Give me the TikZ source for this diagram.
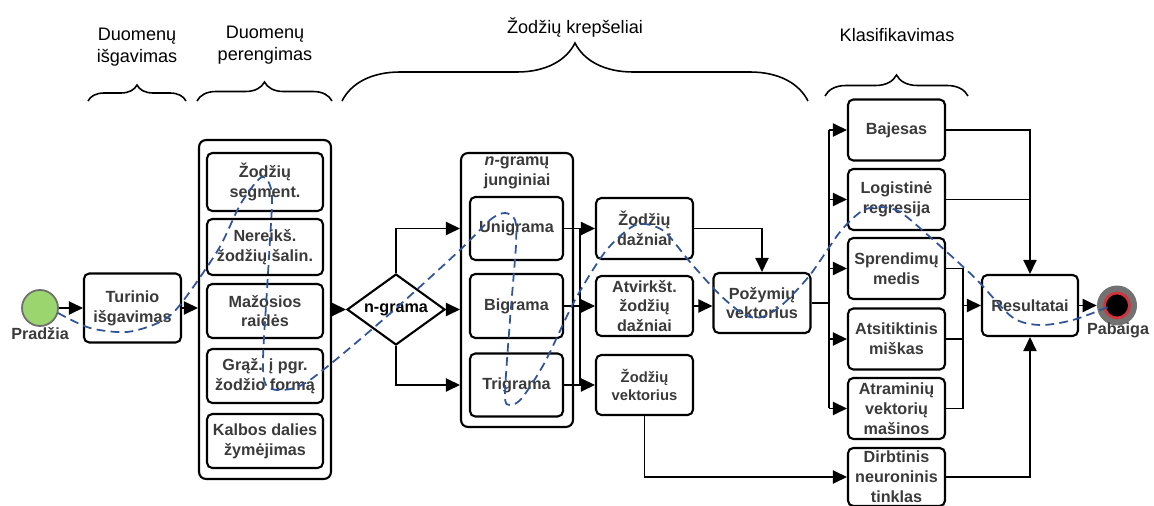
\documentclass[tikz,border=0pt]{standalone}
\usepackage{fontspec}
\setmainfont{Liberation Sans}
\usepackage{tikz}
\usetikzlibrary{shapes,arrows.meta,positioning,calc,decorations.pathreplacing}

\definecolor{txtgray}{HTML}{3A3A3A}
\definecolor{wavblue}{HTML}{2F5597}
\definecolor{startgreen}{HTML}{9BD56E}
\definecolor{startgray}{HTML}{6E6E6E}
\definecolor{endred}{HTML}{D0363C}
\definecolor{endgray}{HTML}{727272}
\newcommand{\bxfont}{\fontsize{9.2}{11.3}\selectfont\bfseries}
\newcommand{\smfont}{\fontsize{8.4}{9.8}\selectfont\bfseries}
\newcommand{\hdfont}{\fontsize{10.3}{12.6}\selectfont}

\begin{document}
\begin{tikzpicture}[x=0.02cm, y=-0.02cm,
  box/.style={draw, rounded corners=3pt, line width=1.2pt, align=center, font=\bxfont,
    text=txtgray, inner sep=1pt, minimum width=1.94cm, minimum height=1.22cm},
  frame/.style={draw, rounded corners=4pt, line width=1.2pt, inner sep=0pt},
  conn/.style={line width=1pt},
  arr/.style={conn, -{Triangle[length=8pt,width=7.5pt]}},
  brc/.style={decorate, decoration={brace, amplitude=#1}, line width=0.9pt},
  hdr/.style={align=center, font=\hdfont},
  wave/.style={wavblue, dash pattern=on 5pt off 3pt, line width=1pt}]
\useasboundingbox (0,0) rectangle (1154,506);

% antraštės
\node[hdr] (hd1) at (137,47) {Duomenų\\išgavimas};
\node[hdr] (hd2) at (265,45) {Duomenų\\perengimas};
\node[hdr] (hd3) at (575,27) {Žodžių krepšeliai};
\node[hdr] (hd4) at (897,35) {Klasifikavimas};
\draw[brc=0.32cm] (88,101) -- (186,101);
\draw[brc=0.38cm] (197,101) -- (332,101);
\draw[brc=1.16cm] (342,101) -- (808,101);
\draw[brc=0.42cm] (825,96) -- (968,96);

% pradžia
\node[circle, draw=startgray, fill=startgreen, line width=1pt, minimum size=0.72cm, inner sep=0pt] (start) at (40,308) {};
\node[font=\bxfont, text=txtgray] (startl) at (40,334) {Pradžia};
\node[box, minimum height=1.38cm] (turinio) at (132.5,308) {Turinio\\išgavimas};

% perengimas
\node[frame, minimum width=2.64cm, minimum height=6.78cm] (prep) at (265,309.5) {};
\node[box, minimum width=2.32cm, minimum height=1.16cm] (seg) at (265,182) {Žodžių\\segment.};
\node[box, minimum width=2.32cm, minimum height=1.12cm] (nere) at (265,247) {Nereikš.\\žodžių šalin.};
\node[box, minimum width=2.32cm, minimum height=1.08cm] (maz) at (265,311) {Mažosios\\raidės};
\node[box, minimum width=2.32cm, minimum height=1.08cm] (graz) at (265,376) {Grąž. į pgr.\\žodžio formą};
\node[box, minimum width=2.32cm, minimum height=1.08cm] (kalb) at (265,441) {Kalbos dalies\\žymėjimas};

% n-gramos
\node[diamond, draw, line width=1.2pt, minimum width=1.96cm, minimum height=1.42cm, inner sep=0pt, aspect=1.4, font=\bxfont] (ngram) at (396,309.5) {n-grama};
\node[frame, minimum width=2.24cm, minimum height=5.48cm] (junc) at (517,290) {};
\node[font=\bxfont, text=txtgray, align=center] (junct) at (517,172.5) {\textit{n}-gramų\\junginiai};
\node[box, minimum width=1.86cm, minimum height=1.26cm] (uni) at (516.5,228.5) {Unigrama};
\node[box, minimum width=1.86cm, minimum height=1.28cm] (big) at (516.5,306) {Bigrama};
\node[box, minimum width=1.86cm, minimum height=1.26cm] (tri) at (516.5,385) {Trigrama};

% krepšeliai
\node[box] (zdaz) at (644.5,228.5) {Žodžių\\dažniai};
\node[box, minimum height=1.2cm] (atv) at (644.5,306) {Atvirkšt.\\žodžių\\dažniai};
\node[box, minimum height=1.2cm, font=\smfont] (zvek) at (644.5,385) {Žodžių\\vektorius};
\node[box, minimum height=1.2cm] (pozy) at (762,303) {Požymių\\vektorius};

% klasifikatoriai
\node[box] (bay) at (896.5,130) {Bajesas};
\node[box] (log) at (896.5,199.5) {Logistinė\\regresija};
\node[box] (spr) at (896.5,268.5) {Sprendimų\\medis};
\node[box] (ats) at (896.5,339) {Atsitiktinis\\miškas};
\node[box] (atr) at (896.5,408.5) {Atraminių\\vektorių\\mašinos};
\node[box, minimum height=1.16cm] (dirb) at (896.5,477) {Dirbtinis\\neuroninis\\tinklas};
\node[box, minimum width=1.92cm] (res) at (1030,305.5) {Resultatai};

% pabaiga
\node[circle, fill=endgray, minimum size=0.8cm, inner sep=0pt] (endc) at (1117,305.5) {};
\draw[endred, line width=1.6pt, fill=black] (endc) circle (0.25cm);
\node[font=\bxfont, text=txtgray] (endl) at (1118,330) {Pabaiga};

% jungtys
\coordinate (bus1) at (580,300);
\coordinate (bus2) at (829,303);
\coordinate (bus4) at (963,305);
\draw[arr] (start) -- (turinio);
\draw[arr] (turinio) -- (turinio -| prep.west);
\draw[arr] (prep.east |- ngram) -- (ngram.west);
\draw[arr] (ngram.north) |- (junc.west |- uni);
\draw[arr] (ngram.east) -- (junc.west |- ngram);
\draw[arr] (ngram.south) |- (junc.west |- tri);
\draw[arr] (uni.east) -- (zdaz.west);
\draw[arr] (big.east) -- (atv.west);
\draw[arr] (tri.east) -- (zvek.west);
\draw[conn] (bus1 |- uni) -- (bus1 |- tri);
\draw[arr] (zdaz.east) -| (pozy.north);
\draw[arr] (atv.east) -- (atv.east -| pozy.west);
\draw[conn] (pozy.east) -- (bus2);
\draw[conn] (bus2 |- bay) -- (bus2 |- atr);
\foreach \c in {bay,log,spr,ats,atr}
  \draw[arr] (bus2 |- \c) -- (\c.west);
\draw[arr] (bay.east) -| (res.north);
\draw[conn] (log.east) -- (log.east -| res.north);
\draw[conn] (spr.east) -| (bus4 |- atr.east) -- (atr.east);
\draw[conn] (ats.east) -- (ats.east -| bus4);
\draw[arr] (bus4 |- res.west) -- (res.west);
\draw[arr] (zvek.south) |- (dirb.west);
\draw[arr] (dirb.east) -| (res.south);
\draw[arr] (res.east) -- (endc.west);

% kelias
\draw[wave] plot[smooth] coordinates {(58,313) (90,328) (127,332) (160,322) (180,305)
  (218,250) (240,205) (258,180) (266,178) (272,195) (270,240) (267,290) (263,360)
  (266,385) (282,390) (310,380) (385,318) (460,250) (490,220) (505,213) (515,220)
  (516,245) (510,320) (505,395) (510,405) (522,398) (545,362) (575,300) (605,252)
  (630,228) (645,224) (665,232) (690,262) (720,295) (745,315) (762,317) (782,305)
  (810,275) (840,232) (862,211) (880,207) (900,212) (930,237) (975,278) (1012,317)
  (1040,325) (1073,320) (1108,307)};
\end{tikzpicture}
\end{document}
